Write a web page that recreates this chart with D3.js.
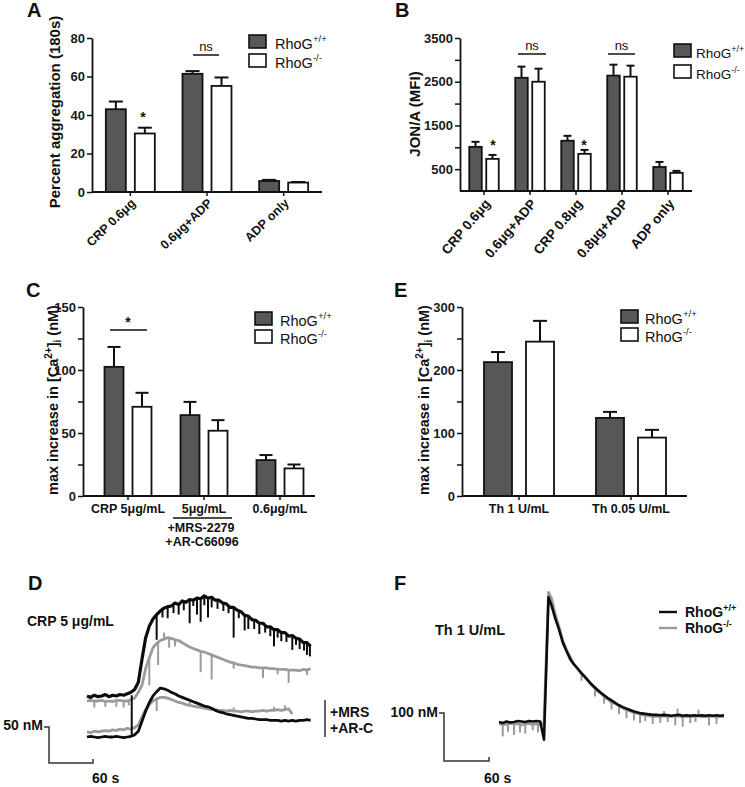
<!DOCTYPE html>
<html><head><meta charset="utf-8">
<script src="https://cdn.jsdelivr.net/npm/d3@7"></script>
<style>body{margin:0;background:#fff}svg{display:block}text{font-family:Arial,"Liberation Sans",Helvetica,sans-serif}</style>
</head><body>
<svg id="c" width="745" height="787"></svg>
<script>
// ---------------- DATA ----------------
const seriesBase = "RhoG";
const seriesSup = ["+/+", "-/-"];

// Panel A: Percent aggregation (180s)
const groupsA = ["CRP 0.6μg", "0.6μg+ADP", "ADP only"];
const wtA = [43.0, 61.4, 5.7];
const wtErrA = [4.0, 1.4, 0.6];
const koA = [30.4, 55.1, 4.9];
const koErrA = [3.0, 4.4, 0.3];
const ticksA = [0, 20, 40, 60, 80];
const labelsA = [0, 20, 40, 60, 80];

// Panel B: JON/A (MFI)
const groupsB = ["CRP 0.6μg", "0.6μg+ADP", "CRP 0.8μg", "0.8μg+ADP", "ADP only"];
const wtB = [1010, 2590, 1150, 2640, 550];
const wtErrB = [115, 255, 112, 250, 115];
const koB = [735, 2500, 850, 2615, 415];
const koErrB = [90, 298, 90, 252, 45];
const ticksB = [500, 1000, 1500, 2000, 2500, 3000, 3500];
const labelsB = [500, 1500, 2500, 3500];

// Panel C: max increase in [Ca2+]i (nM), CRP
const groupsC = ["CRP 5μg/mL", "5μg/mL", "0.6μg/mL"];
const wtC = [102.5, 64.2, 28.5];
const wtErrC = [15.8, 10.5, 4.0];
const koC = [70.8, 51.8, 21.9];
const koErrC = [11.1, 8.4, 3.1];
const ticksC = [0, 25, 50, 75, 100, 125, 150];
const labelsC = [0, 50, 100, 150];
const subLabelC = ["+MRS-2279", "+AR-C66096"];

// Panel E: max increase in [Ca2+]i (nM), thrombin
const groupsE = ["Th 1 U/mL", "Th 0.05 U/mL"];
const wtE = [212.5, 124.0];
const wtErrE = [16.0, 9.5];
const koE = [245.0, 92.7];
const koErrE = [33.0, 12.3];
const ticksE = [0, 50, 100, 150, 200, 250, 300];
const labelsE = [0, 100, 200, 300];

// Panel D traces (time s, nM as drawn, traces offset vertically)
const tD = [0,5,10,15,20,25,30,35,40,45,50,55,60,65,70,75,80,85,90,95,100,105,110,115,120,125,130,135,140,145,150,155,160,165,170,175,180,185,190,195,200,205,210,215,220,225,230,235,240,245,250,255,260,265,270,275,280,285,290,295,300,305];
const crpWT = [57,55,58,56,57,59,56,58,57,59,58,60,62,66,76,108,138,154,164,170,175,179,181,182,186,184,189,187,191,190,193,192,196,193,194,190,190,186,185,180,180,176,174,169,168,163,162,158,158,153,153,149,149,145,145,140,141,137,136,131,131,126];
const crpWTSpikes = [[95,168,135],[103,176,166],[110,181,165],[118,183,172],[125,184,170],[132,188,176],[140,190,158],[145,191,182],[150,193,170],[155,192,160],[160,196,183],[165,193,166],[170,194,180],[178,190,178],[186,187,175],[193,183,172],[200,180,138],[207,176,165],[215,170,148],[220,168,150],[228,162,150],[235,159,143],[243,155,145],[250,153,140],[255,150,126],[260,149,138],[265,146,133],[272,144,132],[280,141,121],[285,138,128],[290,136,122],[296,132,120],[300,131,114],[304,128,112]];
const crpKO = [50,51,50,50,51,49,50,49,51,51,50,50,52,54,62,72,95,110,124,130,134,136,138,137,135,134,131,128,125,123,121,119,118,116,114,112,110,108,106,104,103,101,100,99,98,97,97,96,96,96,95,95,94,94,94,93,93,93,92,94,93,95];
const crpKOSpikes = [[10,50,41],[25,49,42],[40,51,42],[50,50,41],[57,50,44],[85,110,72],[97,132,100],[105,136,145],[112,138,124],[120,135,126],[155,119,90],[170,114,80],[200,103,95],[240,96,82],[260,94,87],[275,93,75],[300,93,86]];
const mrsWT = [0,1,0,-1,0,1,0,0,1,0,-1,0,1,3,8,22,36,48,57,63,68,67,65,62,60,57,55,53,51,49,47,45,43,42,40,37,35,34,32,31,30,29,28,27,26,26,25,24,24,24,23,23,23,22,23,22,23,22,23,23,24,23];
const mrsWTSpikes = [[61,0,58]];
const mrsKO = [7,6,8,7,8,9,8,10,9,11,10,12,11,13,17,28,38,45,50,53,55,55,54,52,50,48,47,45,44,43,42,41,40,39,38,38,37,37,36,37,36,36,35,36,36,35,36,36,37,36,37,37,38,37,38,39,32];
const mrsKOSpikes = [[95,53,36],[140,44,49],[200,36,41],[255,37,42],[270,38,44]];

// Panel F traces (time s, nM)
const tF = [0,5,10,15,20,25,30,35,40,45,50,55,60,66,70,75,80,85,90,95,100,105,110,115,120,125,130,135,140,145,150,155,160,165,170,175,180,185,190,195,200,205,210,215,220,225,230,235,240,245,250,255,260,265,270,275,280,285,290,295,300];
const thWT = [2,0,3,1,2,4,3,2,4,3,4,3,-35,262,245,218,195,168,150,133,122,113,104,95,86,78,71,64,58,52,47,42,37,33,30,27,24,22,20,19,18,17,17,16,17,16,15,16,17,15,16,15,16,15,16,15,16,15,16,15,16];
const thKO = [-2,-3,-3,-1,-2,-2,-4,-2,-1,-3,-2,-4,0,272,260,226,200,172,152,137,122,113,102,96,86,77,68,63,55,50,43,41,35,31,27,25,21,20,17,17,15,14,14,14,15,14,14,15,14,13,14,13,14,15,13,14,13,15,12,14,13];
const thKOSpikes = [[5,-2,-28],[12,-3,-18],[20,-2,-25],[28,-3,-20],[35,-3,-22],[45,-3,-15],[52,-3,-20],[110,102,88],[128,70,55],[140,55,40],[150,43,28],[160,35,18],[170,27,10],[180,21,5],[188,18,0],[195,17,4],[205,14,-2],[215,14,0],[220,15,25],[225,14,2],[235,15,-5],[238,15,30],[245,13,-8],[255,13,0],[262,14,2],[266,15,28],[280,13,-5],[290,12,-2]];

// ---------------- DRAWING ----------------
const svg = d3.select("#c");
const INK = "#111";
const DARK = "#575757";

function txt(g, x, y, s, o = {}) {
  return g.append("text").attr("x", x).attr("y", y).text(s)
    .attr("font-size", o.size || 14)
    .attr("font-weight", o.weight || "bold")
    .attr("text-anchor", o.anchor || "start")
    .attr("fill", o.fill || INK);
}
function supText(g, x, y, base, sup, size, weight) {
  const t = g.append("text").attr("x", x).attr("y", y)
    .attr("font-size", size).attr("font-weight", weight).attr("fill", INK);
  t.append("tspan").text(base);
  t.append("tspan").attr("dy", -size * 0.42).attr("font-size", size * 0.66).text(sup);
  return t;
}
function barLegend(g, x, y1, y2, tx, size) {
  [[y1, DARK], [y2, "#fff"]].forEach(([yy, f], i) => {
    g.append("rect").attr("x", x).attr("y", yy).attr("width", 17).attr("height", 13)
      .attr("fill", f).attr("stroke", INK).attr("stroke-width", 1.6);
    supText(g, tx, yy + 13.5, seriesBase, seriesSup[i], size || 14.5, "normal");
  });
}

function barPanel(o) {
  const g = svg.append("g");
  const x = d3.scaleBand().domain(o.groups).range(o.xRange);
  const y = d3.scaleLinear().domain(o.yDomain).range(o.yRange);
  const series = [
    { v: o.wt, e: o.wtErr, fill: DARK, side: -1 },
    { v: o.ko, e: o.koErr, fill: "#fff", side: 1 }
  ];
  series.forEach(s => {
    o.groups.forEach((gr, i) => {
      const c = x(gr) + x.bandwidth() / 2;
      const x0 = s.side < 0 ? c - o.gap / 2 - o.barW : c + o.gap / 2;
      const bx = x0 + o.barW / 2;
      const top = y(s.v[i]), et = y(s.v[i] + s.e[i]);
      g.append("line").attr("x1", bx).attr("x2", bx).attr("y1", top).attr("y2", et)
        .attr("stroke", INK).attr("stroke-width", 2);
      g.append("line").attr("x1", bx - o.capW / 2).attr("x2", bx + o.capW / 2).attr("y1", et).attr("y2", et)
        .attr("stroke", INK).attr("stroke-width", 2);
      g.append("rect").attr("x", x0).attr("y", top).attr("width", o.barW).attr("height", y(0) - top)
        .attr("fill", s.fill).attr("stroke", INK).attr("stroke-width", 1.8);
    });
  });
  const ya = g.append("g").attr("transform", `translate(${o.axisX},0)`)
    .call(d3.axisLeft(y).tickValues(o.ticks).tickSize(5).tickSizeOuter(0)
      .tickFormat(d => o.labels.includes(d) ? d : ""));
  ya.select(".domain").attr("stroke", INK).attr("stroke-width", 1.8);
  ya.selectAll(".tick line").attr("stroke", INK).attr("stroke-width", 1.5);
  ya.selectAll(".tick text").attr("font-size", 13).attr("font-weight", "bold")
    .attr("fill", "#1a1a1a").attr("font-family", "Arial, 'Liberation Sans', sans-serif").attr("x", -7);
  g.append("line").attr("x1", o.axisX).attr("x2", o.axisEnd).attr("y1", y(0)).attr("y2", y(0))
    .attr("stroke", INK).attr("stroke-width", 1.8);
  o.groups.forEach(gr => {
    const c = x(gr) + x.bandwidth() / 2;
    g.append("line").attr("x1", c).attr("x2", c).attr("y1", y(0)).attr("y2", y(0) + 4)
      .attr("stroke", INK).attr("stroke-width", 1.5);
  });
  return { g, x, y, cx: gr => x(gr) + x.bandwidth() / 2 };
}

// ---- Panel A ----
const A = barPanel({ groups: groupsA, wt: wtA, wtErr: wtErrA, ko: koA, koErr: koErrA,
  yDomain: [0, 80], yRange: [192, 38], xRange: [92, 322], axisX: 92, axisEnd: 322,
  barW: 20, gap: 9, capW: 14, ticks: ticksA, labels: labelsA });
groupsA.forEach(gr => {
  txt(A.g, 0, 0, gr, { size: 12.5, anchor: "end" })
    .attr("transform", `translate(${A.cx(gr) + 6},${204}) rotate(-44)`);
});
txt(A.g, 0, 0, "Percent aggregation (180s)", { size: 15, anchor: "middle" })
  .attr("transform", "translate(60,112) rotate(-90)");
barLegend(A.g, 249, 35, 54, 275);
txt(A.g, 143, 122, "*", { size: 14 }).attr("text-anchor", "middle");
A.g.append("line").attr("x1", 193).attr("x2", 219).attr("y1", 55).attr("y2", 55).attr("stroke", INK).attr("stroke-width", 1.5);
txt(A.g, 206, 51, "ns", { size: 13, weight: "normal", anchor: "middle" });
txt(A.g, 27, 17, "A", { size: 20 });

// ---- Panel B ----
const B = barPanel({ groups: groupsB, wt: wtB, wtErr: wtErrB, ko: koB, koErr: koErrB,
  yDomain: [0, 3500], yRange: [191, 38], xRange: [461, 691], axisX: 460, axisEnd: 692,
  barW: 12.5, gap: 4.5, capW: 8, ticks: ticksB, labels: labelsB });
groupsB.forEach(gr => {
  txt(B.g, 0, 0, gr, { size: 13.5, anchor: "end" })
    .attr("transform", `translate(${B.cx(gr) + 7},${204}) rotate(-50)`);
});
txt(B.g, 0, 0, "JON/A (MFI)", { size: 15, anchor: "middle" })
  .attr("transform", "translate(420,114) rotate(-90)");
barLegend(B.g, 674, 44, 65, 696, 13.5);
txt(B.g, 493, 150, "*", { size: 14, anchor: "middle" });
txt(B.g, 584, 150, "*", { size: 14, anchor: "middle" });
[[518, 546], [608, 635]].forEach(([a, b]) => {
  B.g.append("line").attr("x1", a).attr("x2", b).attr("y1", 54).attr("y2", 54).attr("stroke", INK).attr("stroke-width", 1.5);
  txt(B.g, (a + b) / 2, 50, "ns", { size: 13, weight: "normal", anchor: "middle" });
});
txt(B.g, 395, 17, "B", { size: 20 });

// ---- Panel C ----
const C = barPanel({ groups: groupsC, wt: wtC, wtErr: wtErrC, ko: koC, koErr: koErrC,
  yDomain: [0, 150], yRange: [496, 307], xRange: [90, 318], axisX: 83, axisEnd: 315,
  barW: 19, gap: 9, capW: 13, ticks: ticksC, labels: labelsC });
groupsC.forEach(gr => txt(C.g, C.cx(gr), 513, gr, { size: 12.5, anchor: "middle" }));
C.g.append("line").attr("x1", 173).attr("x2", 232).attr("y1", 518).attr("y2", 518).attr("stroke", INK).attr("stroke-width", 1.5);
txt(C.g, 201, 532, subLabelC[0], { size: 12.5, anchor: "middle" });
txt(C.g, 202, 546, subLabelC[1], { size: 12.5, anchor: "middle" });
function caTitle(g, x, y) {
  const t = g.append("text").attr("font-size", 14.5).attr("font-weight", "bold").attr("fill", INK)
    .attr("text-anchor", "middle").attr("transform", `translate(${x},${y}) rotate(-90)`);
  t.append("tspan").text("max increase in [Ca");
  t.append("tspan").attr("dy", -6).attr("font-size", 10).text("2+");
  t.append("tspan").attr("dy", 6).text("]");
  t.append("tspan").attr("dy", 3).attr("font-size", 10).text("i");
  t.append("tspan").attr("dy", -3).text(" (nM)");
}
caTitle(C.g, 58, 400);
barLegend(C.g, 255, 312, 330, 280);
C.g.append("line").attr("x1", 110).attr("x2", 147).attr("y1", 330).attr("y2", 330).attr("stroke", INK).attr("stroke-width", 1.5);
txt(C.g, 128, 327, "*", { size: 14, anchor: "middle" });
txt(C.g, 26, 297, "C", { size: 20 });

// ---- Panel E ----
const E = barPanel({ groups: groupsE, wt: wtE, wtErr: wtErrE, ko: koE, koErr: koErrE,
  yDomain: [0, 300], yRange: [496, 307], xRange: [463, 687], axisX: 462, axisEnd: 687,
  barW: 28, gap: 14, capW: 14, ticks: ticksE, labels: labelsE });
groupsE.forEach(gr => txt(E.g, E.cx(gr), 513, gr, { size: 12.5, anchor: "middle" }));
caTitle(E.g, 429, 400);
barLegend(E.g, 621, 310, 328, 645);
txt(E.g, 394, 297, "E", { size: 20 });

// ---- trace helpers ----
const GRAY = "#9b9b9b", BLK = "#0c0c0c";
function trace(g, line, t, v, color, w) {
  g.append("path").datum(v.map((d, i) => [t[i], d])).attr("d", line)
    .attr("fill", "none").attr("stroke", color).attr("stroke-width", w)
    .attr("stroke-linejoin", "round");
}
function spikes(g, xs, ys, arr, color, w) {
  arr.forEach(([t, a, b]) => {
    g.append("line").attr("x1", xs(t)).attr("x2", xs(t)).attr("y1", ys(a)).attr("y2", ys(b))
      .attr("stroke", color).attr("stroke-width", w);
  });
}

// ---- Panel D ----
const gD = svg.append("g");
const xD = d3.scaleLinear().domain([0, 310]).range([87, 314.3]);
const yD = d3.scaleLinear().domain([0, 50]).range([737, 701]);
const lineD = d3.line().x(d => xD(d[0])).y(d => yD(d[1]));
trace(gD, lineD, tD, crpKO, GRAY, 2.8);
spikes(gD, xD, yD, crpKOSpikes, GRAY, 2);
trace(gD, lineD, tD.slice(0, mrsKO.length), mrsKO, GRAY, 2.8);
spikes(gD, xD, yD, mrsKOSpikes, GRAY, 2);
trace(gD, lineD, tD, mrsWT, BLK, 2.8);
spikes(gD, xD, yD, mrsWTSpikes, BLK, 2);
trace(gD, lineD, tD, crpWT, BLK, 3.2);
spikes(gD, xD, yD, crpWTSpikes, BLK, 2);
txt(gD, 28, 590, "D", { size: 20 });
txt(gD, 27, 626, "CRP 5 μg/mL", { size: 14 });
gD.append("line").attr("x1", 325).attr("x2", 325).attr("y1", 700).attr("y2", 737).attr("stroke", "#333").attr("stroke-width", 1.5);
txt(gD, 330, 717, "+MRS", { size: 14 });
txt(gD, 330, 733, "+AR-C", { size: 14 });
{
  const x0 = 49, yTop = 727;
  const h = yD(0) - yD(50), w = xD(60) - xD(0);
  const p = `M${x0 - 5},${yTop}H${x0}V${yTop + h}H${x0 + w}v-4`;
  gD.append("path").attr("d", p).attr("fill", "none").attr("stroke", "#333").attr("stroke-width", 1.5);
  txt(gD, x0 - 6, yTop + 3, "50 nM", { size: 14, anchor: "end" });
  txt(gD, x0 + w - 1, 783, "60 s", { size: 14 });
}

// ---- Panel F ----
const gF = svg.append("g");
const xF = d3.scaleLinear().domain([0, 300]).range([499, 724]);
const yF = d3.scaleLinear().domain([0, 100]).range([723, 675]);
const lineF = d3.line().x(d => xF(d[0])).y(d => yF(d[1]));
trace(gF, lineF, tF, thKO, GRAY, 2.8);
spikes(gF, xF, yF, thKOSpikes, GRAY, 2);
trace(gF, lineF, tF, thWT, BLK, 2.6);
txt(gF, 394, 590, "F", { size: 20 });
txt(gF, 435, 635, "Th 1 U/mL", { size: 14.5 });
[[612, BLK], [628, GRAY]].forEach(([yy, col], i) => {
  gF.append("line").attr("x1", 659).attr("x2", 677).attr("y1", yy).attr("y2", yy).attr("stroke", col).attr("stroke-width", 2.4);
  supText(gF, 685, yy + 5, seriesBase, seriesSup[i], 14, "bold");
});
{
  const x0 = 444, yTop = 713;
  const h = yF(0) - yF(100), w = xF(60) - xF(0);
  const p = `M${x0 - 5},${yTop}H${x0}V${yTop + h}H${x0 + w}v-4`;
  gF.append("path").attr("d", p).attr("fill", "none").attr("stroke", "#333").attr("stroke-width", 1.5);
  txt(gF, x0 - 6, yTop + 4, "100 nM", { size: 14, anchor: "end" });
  txt(gF, x0 + w - 5, 783, "60 s", { size: 14 });
}
</script>
</body></html>
